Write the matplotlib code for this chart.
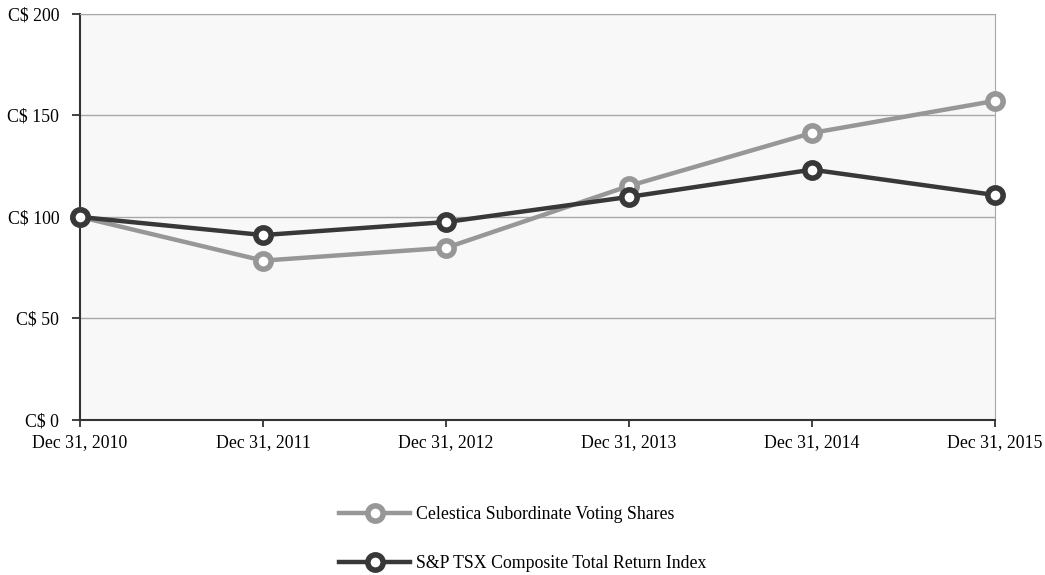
import matplotlib
matplotlib.use('Agg')
import matplotlib.pyplot as plt

dates = ['Dec 31, 2010', 'Dec 31, 2011', 'Dec 31, 2012', 'Dec 31, 2013', 'Dec 31, 2014', 'Dec 31, 2015']
celestica = [100, 78.5, 84.8, 115.3, 141.4, 157.2]
tsx = [100, 91.1, 97.5, 109.9, 123.3, 110.8]
y_ticks = [0, 50, 100, 150, 200]

plt.rcParams['font.family'] = ['Liberation Serif', 'DejaVu Serif']

fig = plt.figure(figsize=(10.45, 5.75), dpi=100)
ax = fig.add_axes([0.0766, 0.2696, 0.8756, 0.7061])
ax.set_facecolor('#f8f8f8')

x = list(range(len(dates)))
ax.plot(x, celestica, color='#979797', lw=3.2, marker='o', ms=11,
        mfc='white', mec='#979797', mew=4.0, label='Celestica Subordinate Voting Shares',
        zorder=3, clip_on=False)
ax.plot(x, tsx, color='#383838', lw=3.2, marker='o', ms=11,
        mfc='white', mec='#383838', mew=4.0, label='S&P TSX Composite Total Return Index',
        zorder=4, clip_on=False)

ax.set_xlim(0, 5)
ax.set_ylim(0, 200)
ax.set_xticks(x)
ax.set_xticklabels(dates, fontsize=12.8)
ax.set_yticks(y_ticks)
ax.set_yticklabels(['C$ %d' % v for v in y_ticks], fontsize=12.8)
ax.grid(axis='y', color='#a8a8a8', lw=1)
ax.set_axisbelow(True)
for s in ['top', 'right']:
    ax.spines[s].set_color('#a8a8a8')
for s in ['left', 'bottom']:
    ax.spines[s].set_color('#333333')
    ax.spines[s].set_linewidth(1.5)
ax.tick_params(axis='x', direction='out', length=5, width=1.3, color='#333333', pad=5)
ax.tick_params(axis='y', direction='out', length=6, width=1.3, color='#333333', pad=9)

fig.legend(loc='center', bbox_to_anchor=(0.5, 0.0626), frameon=False, fontsize=12.8,
           handlelength=4.0, labelspacing=1.8, handletextpad=0.3)

fig.savefig('out.png', dpi=100)
